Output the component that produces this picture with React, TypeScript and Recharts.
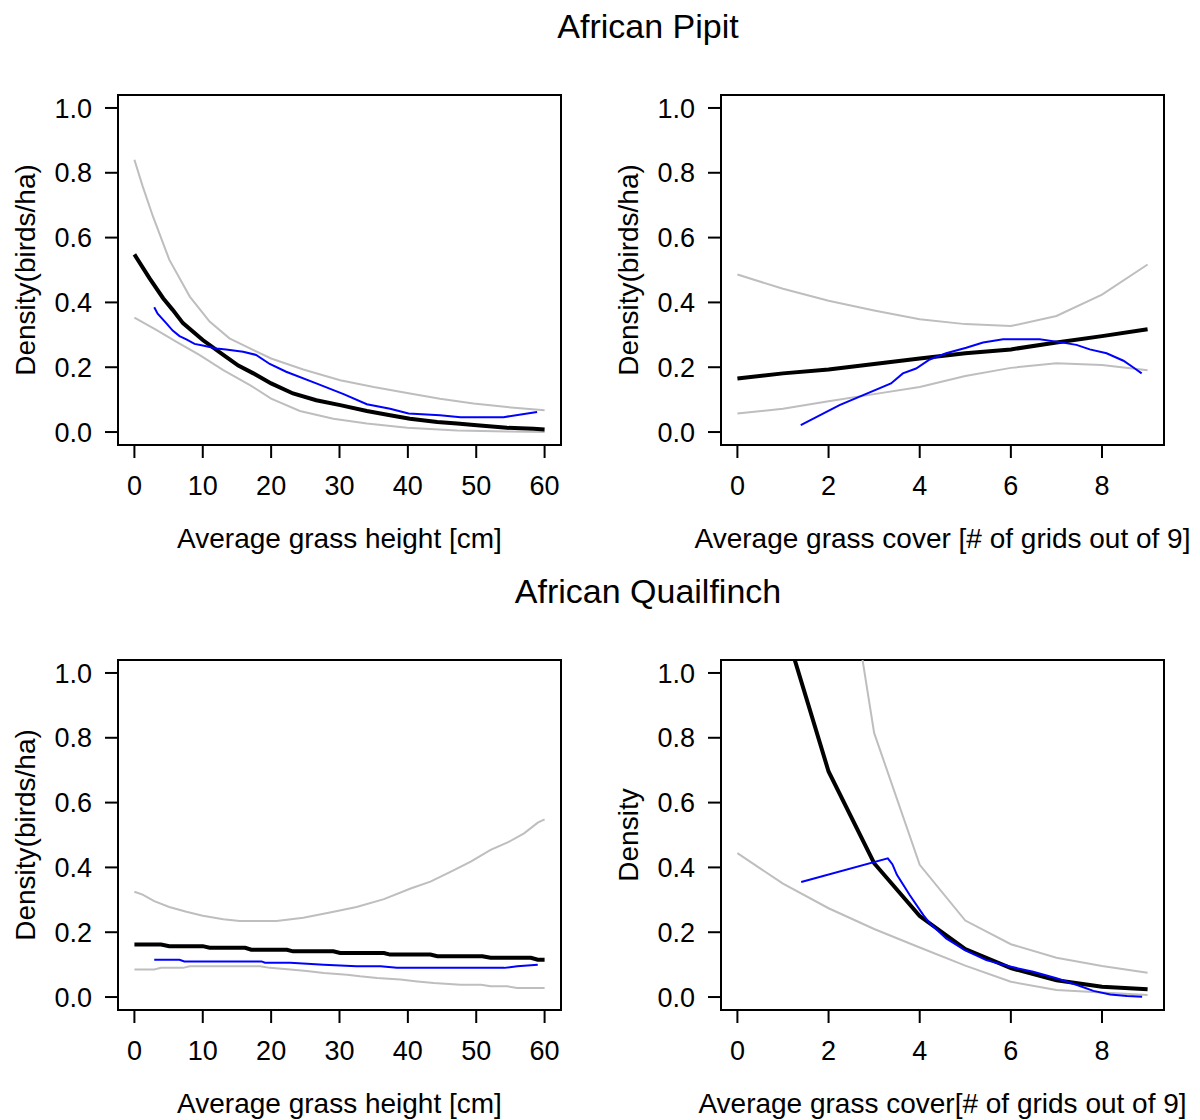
import React from 'react';
import { LineChart, Line, XAxis, YAxis, ReferenceArea } from 'recharts';

type Pt = [number, number];

const FONT = '"Liberation Sans", Arial, Helvetica, sans-serif';

const heightTicks = [0, 10, 20, 30, 40, 50, 60];
const coverTicks = [0, 2, 4, 6, 8];
const densityTicks = [0, 0.2, 0.4, 0.6, 0.8, 1.0];

const heightDomain: [number, number] = [-2.4, 62.4];
const coverDomain: [number, number] = [-0.36, 9.36];
const densityDomain: [number, number] = [-0.04, 1.04];

const titles = ['African Pipit', 'African Quailfinch'];
const xLabels = [
  'Average grass height [cm]',
  'Average grass cover [# of grids out of 9]',
  'Average grass height [cm]',
  'Average grass cover[# of grids out of 9]',
];
const yLabels = ['Density(birds/ha)', 'Density(birds/ha)', 'Density(birds/ha)', 'Density'];

// ---- African Pipit vs grass height ----
const pipitHeightFit: Pt[] = [
  [0, 0.548], [2.2, 0.475], [4.2, 0.413], [5.6, 0.377], [7.1, 0.336], [10, 0.284], [13, 0.238],
  [15.2, 0.205], [17.4, 0.181], [20, 0.15], [23.2, 0.119], [26.6, 0.098], [30.1, 0.083], [34, 0.065],
  [37.4, 0.052], [40.3, 0.041], [44.3, 0.031], [47.2, 0.026], [50.1, 0.021], [54.5, 0.013], [58.4, 0.01], [60, 0.008],
];
const pipitHeightUpper: Pt[] = [
  [0, 0.84], [1.2, 0.759], [2.7, 0.666], [5.1, 0.532], [8.1, 0.418], [11, 0.341], [13.9, 0.289],
  [16.9, 0.258], [20, 0.227], [24.7, 0.193], [30.1, 0.16], [35, 0.139], [40.3, 0.119], [44.7, 0.103],
  [49.6, 0.088], [54.5, 0.077], [60, 0.067],
];
const pipitHeightLower: Pt[] = [
  [0, 0.353], [3.2, 0.315], [6.1, 0.279], [9.5, 0.238], [13, 0.191], [16.9, 0.145], [20, 0.103],
  [24.2, 0.065], [29.1, 0.041], [34, 0.026], [39.9, 0.013], [47.2, 0.005], [54.5, 0.002], [60, 0.0],
];
const pipitHeightObs: Pt[] = [
  [2.9, 0.385], [3.4, 0.365], [4.65, 0.336], [5.6, 0.313], [6.6, 0.296], [7.6, 0.286], [8.8, 0.272],
  [10, 0.267], [12, 0.258], [13.4, 0.255], [15.9, 0.248], [17.8, 0.238], [19.8, 0.21], [22.2, 0.186],
  [26.6, 0.15], [30.6, 0.117], [34, 0.086], [37.4, 0.072], [40.1, 0.057], [44.7, 0.052], [47.7, 0.046],
  [54, 0.046], [58.9, 0.062],
];

// ---- African Pipit vs grass cover ----
const pipitCoverFit: Pt[] = [
  [0, 0.165], [1, 0.181], [2, 0.193], [3, 0.21], [4, 0.227], [5, 0.243], [6, 0.255], [7, 0.276], [8, 0.296], [9, 0.317],
];
const pipitCoverUpper: Pt[] = [
  [0, 0.486], [1, 0.442], [2, 0.405], [3, 0.375], [4, 0.348], [5, 0.333], [6, 0.327], [7, 0.358], [8, 0.424], [9, 0.517],
];
const pipitCoverLower: Pt[] = [
  [0, 0.057], [1, 0.072], [2, 0.095], [3, 0.117], [4, 0.139], [5, 0.173], [6, 0.198], [7, 0.212], [8, 0.207], [9, 0.191],
];
const pipitCoverObs: Pt[] = [
  [1.39, 0.021], [2.24, 0.083], [3.37, 0.15], [3.63, 0.181], [3.92, 0.196], [4.22, 0.224], [4.58, 0.243],
  [5.02, 0.26], [5.39, 0.276], [5.83, 0.286], [6.27, 0.286], [6.63, 0.286], [7.0, 0.279], [7.44, 0.269],
  [7.73, 0.255], [8.1, 0.243], [8.47, 0.22], [8.72, 0.196], [8.87, 0.181],
];

// ---- African Quailfinch vs grass height ----
const quailHeightFit: Pt[] = [
  [0, 0.162], [3.9, 0.162], [5.1, 0.157], [10, 0.157], [11, 0.152], [16.2, 0.152], [17.1, 0.146],
  [22.3, 0.146], [23.2, 0.141], [29.1, 0.141], [30.1, 0.136], [36.5, 0.136], [37.4, 0.131], [43.3, 0.131],
  [44.3, 0.126], [50.9, 0.126], [52.1, 0.121], [58, 0.121], [59, 0.115], [60, 0.115],
];
const quailHeightUpper: Pt[] = [
  [0, 0.325], [1.2, 0.316], [2.9, 0.296], [5.1, 0.278], [7.6, 0.263], [10, 0.251], [13, 0.24],
  [15.4, 0.235], [20.8, 0.235], [24.7, 0.245], [28.6, 0.261], [32.5, 0.278], [36.5, 0.302], [40.4, 0.335],
  [43.3, 0.356], [46.3, 0.387], [49.2, 0.418], [52.1, 0.454], [54.6, 0.477], [57, 0.505], [59, 0.538], [60, 0.548],
];
const quailHeightLower: Pt[] = [
  [0, 0.085], [2.9, 0.085], [3.9, 0.09], [7.1, 0.09], [8.1, 0.095], [18.4, 0.095], [19.8, 0.09],
  [22.8, 0.085], [25.2, 0.08], [27.7, 0.074], [31.1, 0.069], [33, 0.064], [35.5, 0.059], [38.9, 0.054],
  [41.4, 0.048], [43.8, 0.043], [47.7, 0.038], [50.7, 0.038], [52.1, 0.033], [54.6, 0.033], [56, 0.028], [60, 0.028],
];
const quailHeightObs: Pt[] = [
  [2.9, 0.115], [6.6, 0.115], [7.3, 0.11], [18.6, 0.11], [19.1, 0.106], [22.8, 0.106], [27.7, 0.1],
  [32.5, 0.095], [36, 0.095], [38.4, 0.09], [54.1, 0.09], [56, 0.095], [59, 0.1],
];

// ---- African Quailfinch vs grass cover ----
const quailCoverFit: Pt[] = [
  [0, 1.98], [1, 1.16], [2, 0.696], [3, 0.413], [4, 0.25], [5, 0.148], [6, 0.089], [7, 0.052], [8, 0.032], [9, 0.024],
];
const quailCoverUpper: Pt[] = [
  [0, 7.0], [1, 3.4], [2, 1.7], [3, 0.815], [4, 0.408], [5, 0.236], [6, 0.163], [7, 0.121], [8, 0.096], [9, 0.075],
];
const quailCoverLower: Pt[] = [
  [0, 0.444], [1, 0.35], [2, 0.274], [3, 0.21], [4, 0.153], [5, 0.097], [6, 0.047], [7, 0.022], [8, 0.014], [9, 0.006],
];
const quailCoverObs: Pt[] = [
  [1.4, 0.355], [3.3, 0.428], [3.4, 0.41], [3.5, 0.377], [3.78, 0.315], [4.08, 0.253], [4.22, 0.228],
  [4.58, 0.181], [4.99, 0.145], [5.46, 0.114], [5.98, 0.094], [6.49, 0.078], [7.0, 0.058], [7.45, 0.037],
  [7.81, 0.019], [8.18, 0.008], [8.55, 0.003], [8.88, 0.001],
];

const toRows = (pts: Pt[]) => pts.map(([x, y]) => ({ x, y }));

type PanelProps = {
  left: number;
  top: number;
  marginTop: number;
  marginRight: number;
  yAxisWidth: number;
  xAxisHeight: number;
  xDomain: [number, number];
  xTicks: number[];
  fit: Pt[];
  upper: Pt[];
  lower: Pt[];
  obs: Pt[];
};

const tickStyle = { fill: '#000', fontSize: 27, fontFamily: FONT };
const tickLineStyle = { stroke: '#000', strokeWidth: 2 };

function Panel(p: PanelProps) {
  return (
    <div style={{ position: 'absolute', left: p.left, top: p.top }}>
      <LineChart
        width={600}
        height={560}
        margin={{ top: p.marginTop, right: p.marginRight, bottom: 0, left: 0 }}
      >
        <XAxis
          type="number"
          dataKey="x"
          domain={p.xDomain}
          ticks={p.xTicks}
          interval={0}
          allowDataOverflow
          height={p.xAxisHeight}
          axisLine={false}
          tickLine={tickLineStyle}
          tickSize={13}
          tickMargin={18}
          tick={tickStyle}
        />
        <YAxis
          type="number"
          domain={densityDomain}
          ticks={densityTicks}
          interval={0}
          allowDataOverflow
          width={p.yAxisWidth}
          axisLine={false}
          tickLine={tickLineStyle}
          tickSize={13}
          tickMargin={13}
          tick={tickStyle}
          tickFormatter={(v: number) => v.toFixed(1)}
        />
        <Line data={toRows(p.upper)} dataKey="y" stroke="#BEBEBE" strokeWidth={2} dot={false} isAnimationActive={false} type="linear" />
        <Line data={toRows(p.lower)} dataKey="y" stroke="#BEBEBE" strokeWidth={2} dot={false} isAnimationActive={false} type="linear" />
        <Line data={toRows(p.fit)} dataKey="y" stroke="#000000" strokeWidth={4} dot={false} isAnimationActive={false} type="linear" />
        <Line data={toRows(p.obs)} dataKey="y" stroke="#0000FF" strokeWidth={2} dot={false} isAnimationActive={false} type="linear" />
        <ReferenceArea
          x1={p.xDomain[0]}
          x2={p.xDomain[1]}
          y1={densityDomain[0]}
          y2={densityDomain[1]}
          fill="none"
          fillOpacity={0}
          stroke="#000"
          strokeWidth={2}
          ifOverflow="visible"
        />
      </LineChart>
    </div>
  );
}

export default function App() {
  return (
    <div style={{ position: 'absolute', left: 0, top: 0, width: 1200, height: 1120, background: '#fff', overflow: 'hidden' }}>
      <Panel left={0} top={0} marginTop={95} marginRight={39} yAxisWidth={118} xAxisHeight={115}
        xDomain={heightDomain} xTicks={heightTicks}
        fit={pipitHeightFit} upper={pipitHeightUpper} lower={pipitHeightLower} obs={pipitHeightObs} />
      <Panel left={600} top={0} marginTop={95} marginRight={36} yAxisWidth={121} xAxisHeight={115}
        xDomain={coverDomain} xTicks={coverTicks}
        fit={pipitCoverFit} upper={pipitCoverUpper} lower={pipitCoverLower} obs={pipitCoverObs} />
      <Panel left={0} top={560} marginTop={100} marginRight={39} yAxisWidth={118} xAxisHeight={110}
        xDomain={heightDomain} xTicks={heightTicks}
        fit={quailHeightFit} upper={quailHeightUpper} lower={quailHeightLower} obs={quailHeightObs} />
      <Panel left={600} top={560} marginTop={100} marginRight={36} yAxisWidth={121} xAxisHeight={110}
        xDomain={coverDomain} xTicks={coverTicks}
        fit={quailCoverFit} upper={quailCoverUpper} lower={quailCoverLower} obs={quailCoverObs} />
      <svg width={1200} height={1120} style={{ position: 'absolute', left: 0, top: 0, pointerEvents: 'none' }}>
        <g fontFamily={FONT} fill="#000">
          <text x={648} y={38} fontSize={34} textAnchor="middle">{titles[0]}</text>
          <text x={648} y={603} fontSize={34} textAnchor="middle">{titles[1]}</text>
          <text x={339.5} y={548} fontSize={28} textAnchor="middle">{xLabels[0]}</text>
          <text x={942.5} y={548} fontSize={28} textAnchor="middle">{xLabels[1]}</text>
          <text x={339.5} y={1113} fontSize={28} textAnchor="middle">{xLabels[2]}</text>
          <text x={942.5} y={1113} fontSize={28} textAnchor="middle">{xLabels[3]}</text>
          <text x={35} y={270} fontSize={28} textAnchor="middle" transform="rotate(-90 35 270)">{yLabels[0]}</text>
          <text x={638} y={270} fontSize={28} textAnchor="middle" transform="rotate(-90 638 270)">{yLabels[1]}</text>
          <text x={35} y={835} fontSize={28} textAnchor="middle" transform="rotate(-90 35 835)">{yLabels[2]}</text>
          <text x={638} y={835} fontSize={28} textAnchor="middle" transform="rotate(-90 638 835)">{yLabels[3]}</text>
        </g>
      </svg>
    </div>
  );
}
